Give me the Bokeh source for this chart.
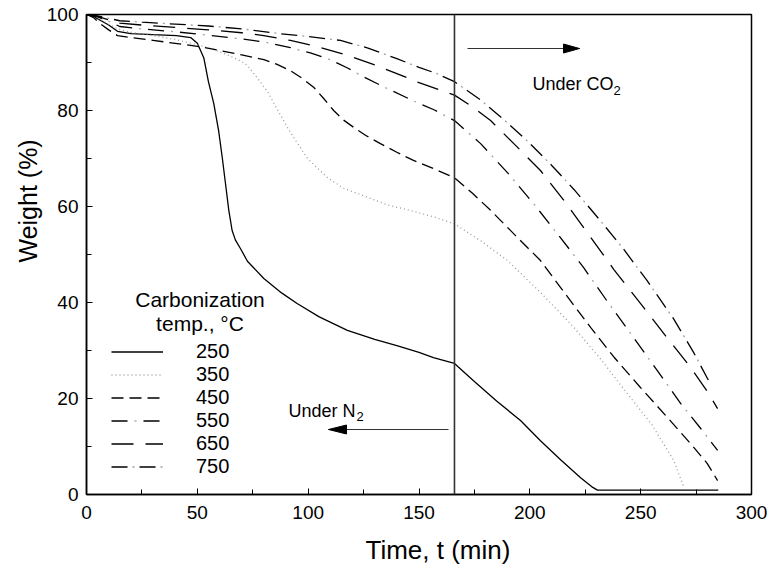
from bokeh.plotting import figure
from bokeh.models import (Range1d, SingleIntervalTicker, Span, Label, Legend, LegendItem, Title)
from bokeh.embed import file_html
from bokeh.resources import INLINE

# ---- TGA weight-loss curves, by carbonization temperature (°C) ----
t_250 = [0, 3, 7, 10, 14, 20, 30, 40.6, 47, 50, 52.9, 55, 57.4, 59.6, 61.3, 62.7, 64.2, 65.7,
         67.2, 69.5, 72.6, 80, 88, 95, 105, 117.7, 130, 140, 150, 156.5, 166, 174.6, 185,
         195.8, 204.8, 214, 222.9, 228, 230.5, 240, 260, 285]
w_250 = [100, 99.6, 98.6, 97.8, 96.5, 96.0, 95.8, 95.6, 95.2, 94.0, 91.0, 86.0, 81.5, 75.8,
         70.0, 64.8, 59.2, 55.0, 53.0, 51.2, 48.6, 45.0, 42.0, 39.8, 37.0, 34.2, 32.3, 31.0,
         29.6, 28.5, 27.3, 23.7, 19.5, 15.4, 11.2, 7.2, 3.5, 1.6, 0.9, 0.9, 0.9, 0.9]

t_350 = [0, 3, 7, 10, 14, 20, 30, 40, 50, 58, 64, 70, 72.6, 76, 81.6, 86, 90.6, 94, 99.7,
         108.7, 116, 126.8, 136, 147.5, 157, 166, 178, 189.9, 205, 219.9, 232, 244, 255,
         265, 269.5]
w_350 = [100, 99.6, 98.8, 98.0, 97.0, 96.3, 95.6, 94.8, 93.7, 92.6, 91.5, 90.2, 89.4, 87.4,
         84.0, 80.3, 76.5, 74.0, 70.0, 66.0, 63.8, 61.9, 60.3, 59.0, 57.8, 56.4, 52.8, 48.75,
         42.0, 34.8, 28.2, 21.0, 14.6, 7.0, 1.5]

t_450 = [0, 3, 7, 10, 14, 20, 30, 40, 51, 60, 70, 80, 86, 92, 97, 102.6, 107, 111.5, 116,
         120.5, 126, 132.6, 140, 147.5, 157, 166, 174, 182.3, 193, 204.8, 216, 227.4, 238,
         249.9, 261, 272.5, 280, 284.7]
w_450 = [100, 99.4, 97.8, 96.8, 95.6, 95.2, 94.6, 94.0, 93.3, 92.5, 91.6, 90.6, 89.6, 88.3,
         86.8, 84.8, 82.5, 80.0, 78.0, 76.5, 74.8, 73.1, 71.3, 69.6, 67.8, 66.0, 62.8, 59.2,
         54.2, 48.75, 41.8, 34.8, 28.6, 22.3, 16.6, 10.6, 6.5, 2.9]

t_550 = [0, 5, 10, 15, 25, 40, 55, 70, 80, 92, 101, 110, 118, 125, 136, 147.5, 157, 166,
         177.8, 190, 201.7, 213, 224.2, 235, 246.8, 258, 268, 277, 284.7]
w_550 = [100, 99.5, 98.6, 97.5, 97.0, 96.4, 95.7, 94.9, 94.3, 93.1, 92.0, 90.6, 88.8, 87.0,
         84.5, 82.0, 80.1, 77.9, 73.1, 67.0, 60.6, 54.0, 47.3, 40.2, 32.7, 25.5, 19.0, 13.8,
         9.2]

t_650 = [0, 5, 10, 15, 25, 40, 55, 70, 80, 92, 105, 117.7, 130, 140, 150, 158, 166, 174,
         182.3, 193, 204.8, 216, 227.4, 238, 249.9, 261, 272.5, 280, 284.7]
w_650 = [100, 99.6, 98.9, 98.2, 97.8, 97.3, 96.8, 96.2, 95.6, 94.6, 93.2, 91.5, 89.5, 87.7,
         85.8, 84.5, 83.2, 80.8, 77.9, 73.0, 67.5, 60.9, 53.6, 46.8, 39.8, 33.2, 26.5, 21.5,
         17.9]

t_750 = [0, 5, 10, 15, 25, 40, 55, 70, 87.5, 100, 114.6, 127, 140, 150, 158, 166, 177.8,
         188, 199, 210, 220, 231, 242, 253, 265, 274, 281.5]
w_750 = [100, 99.7, 99.2, 98.7, 98.4, 98.0, 97.6, 97.0, 96.0, 95.4, 94.6, 93.0, 90.8, 89.0,
         87.7, 86.0, 82.2, 78.2, 73.6, 68.5, 63.5, 57.5, 51.3, 44.5, 36.5, 29.5, 23.0]

temps = ["250", "350", "450", "550", "650", "750"]
switch_time = 166          # gas switched from N2 to CO2 (min)

FONT = "Liberation Sans"

# frame pixel box, used to place the free-standing annotations
FX0, FX1, FY0, FY1 = 86, 751, 494, 14
T_MAX, W_MAX = 300, 100


def t_at(px):
    return (px - FX0) / (FX1 - FX0) * T_MAX


def w_at(py):
    return (FY0 - py) / (FY0 - FY1) * W_MAX


p = figure(width=773, height=575, output_backend="svg", toolbar_location=None,
           x_range=Range1d(0, T_MAX), y_range=Range1d(0, W_MAX),
           min_border_left=FX0, min_border_right=773 - FX1,
           min_border_top=FY1, min_border_bottom=575 - FY0)
p.background_fill_color = "white"
p.border_fill_color = "white"
p.outline_line_color = "black"
p.outline_line_width = 1.5
p.xgrid.visible = False
p.ygrid.visible = False

p.xaxis.ticker = SingleIntervalTicker(interval=50, num_minor_ticks=2)
p.yaxis.ticker = SingleIntervalTicker(interval=20, num_minor_ticks=2)
for ax in (p.xaxis[0], p.yaxis[0]):
    ax.axis_line_color = "black"
    ax.axis_line_width = 1.5
    ax.major_tick_in = 6
    ax.major_tick_out = 0
    ax.minor_tick_in = 5
    ax.minor_tick_out = 0
    ax.major_tick_line_color = "black"
    ax.minor_tick_line_color = "black"
    ax.major_label_text_font = FONT
    ax.major_label_text_font_size = "19px"
    ax.major_label_text_color = "black"
p.xaxis.major_label_standoff = 11
p.yaxis.major_label_standoff = 8

# axis titles (side titles so they sit outside the frame)
p.add_layout(Title(text="Time, t (min)", align="left", offset=365 - FX0, standoff=22,
                   text_font=FONT, text_font_size="26px", text_font_style="normal",
                   text_color="black"), "below")
p.add_layout(Title(text="Weight (%)", align="left", offset=FY0 - 262, standoff=4,
                   text_font=FONT, text_font_size="25px", text_font_style="normal",
                   text_color="black"), "left")

# ---- curves ----
r250 = p.line(t_250, w_250, line_color="black", line_width=1.3)
r350 = p.line(t_350, w_350, line_color="#9a9a9a", line_width=1.3, line_dash="1 3")
r450 = p.line(t_450, w_450, line_color="black", line_width=1.3, line_dash="12 6")
r550a = p.line(t_550, w_550, line_color="black", line_width=1.3, line_dash="16 16")
r550b = p.line(t_550, w_550, line_color="#a0a0a0", line_width=1.3, line_dash="2 30",
               line_dash_offset=9)
r650 = p.line(t_650, w_650, line_color="black", line_width=1.3, line_dash="22 12")
r750a = p.line(t_750, w_750, line_color="black", line_width=1.3, line_dash="16 12")
r750b = p.line(t_750, w_750, line_color="#a0a0a0", line_width=1.3, line_dash="2 26",
               line_dash_offset=7)

# ---- gas switch marker ----
p.add_layout(Span(location=switch_time, dimension="height", line_color="#333333",
                  line_width=1.6))

# ---- arrows ----
def arrow(x_from_px, x_tip_px, y_px, head_len, head_half):
    p.segment(x0=[t_at(x_from_px)], y0=[w_at(y_px)], x1=[t_at(x_tip_px)], y1=[w_at(y_px)],
              line_color="#333333", line_width=1.2)
    sgn = 1 if x_tip_px > x_from_px else -1
    base = x_tip_px - sgn * head_len
    p.patch([t_at(x_tip_px), t_at(base), t_at(base)],
            [w_at(y_px), w_at(y_px - head_half), w_at(y_px + head_half)],
            fill_color="black", line_color="black", line_width=1)


arrow(448, 328, 429, 18, 4.5)
arrow(467, 579, 48, 16, 4.5)


def text(px, py, s, size, style="normal"):
    p.add_layout(Label(x=t_at(px), y=w_at(py), text=s, text_font=FONT,
                       text_font_size=size, text_font_style=style, text_color="black",
                       text_align="left", text_baseline="alphabetic"))


text(288, 410, "Under N", "18px")
text(356, 416, "2", "13px")
text(532, 83, "Under CO", "18px")
text(613, 90, "2", "13px")

# legend title
for s, py in (("Carbonization", 299), ("temp., °C", 323)):
    p.add_layout(Label(x=t_at(199.5), y=w_at(py), text=s, text_font=FONT,
                       text_font_size="21px", text_align="center",
                       text_baseline="alphabetic", text_color="black"))

legend = Legend(items=[
    LegendItem(label=temps[0], renderers=[r250]),
    LegendItem(label=temps[1], renderers=[r350]),
    LegendItem(label=temps[2], renderers=[r450]),
    LegendItem(label=temps[3], renderers=[r550a, r550b]),
    LegendItem(label=temps[4], renderers=[r650]),
    LegendItem(label=temps[5], renderers=[r750a, r750b]),
], location=(111 - FX0, 16))
legend.glyph_width = 52
legend.glyph_height = 23
legend.label_height = 23
legend.spacing = 0
legend.label_standoff = 33
legend.padding = 0
legend.margin = 0
legend.border_line_alpha = 0
legend.background_fill_alpha = 0
legend.label_text_font = FONT
legend.label_text_font_size = "20px"
legend.label_text_color = "black"
p.add_layout(legend)

open("out.html", "w").write(file_html(p, INLINE))
